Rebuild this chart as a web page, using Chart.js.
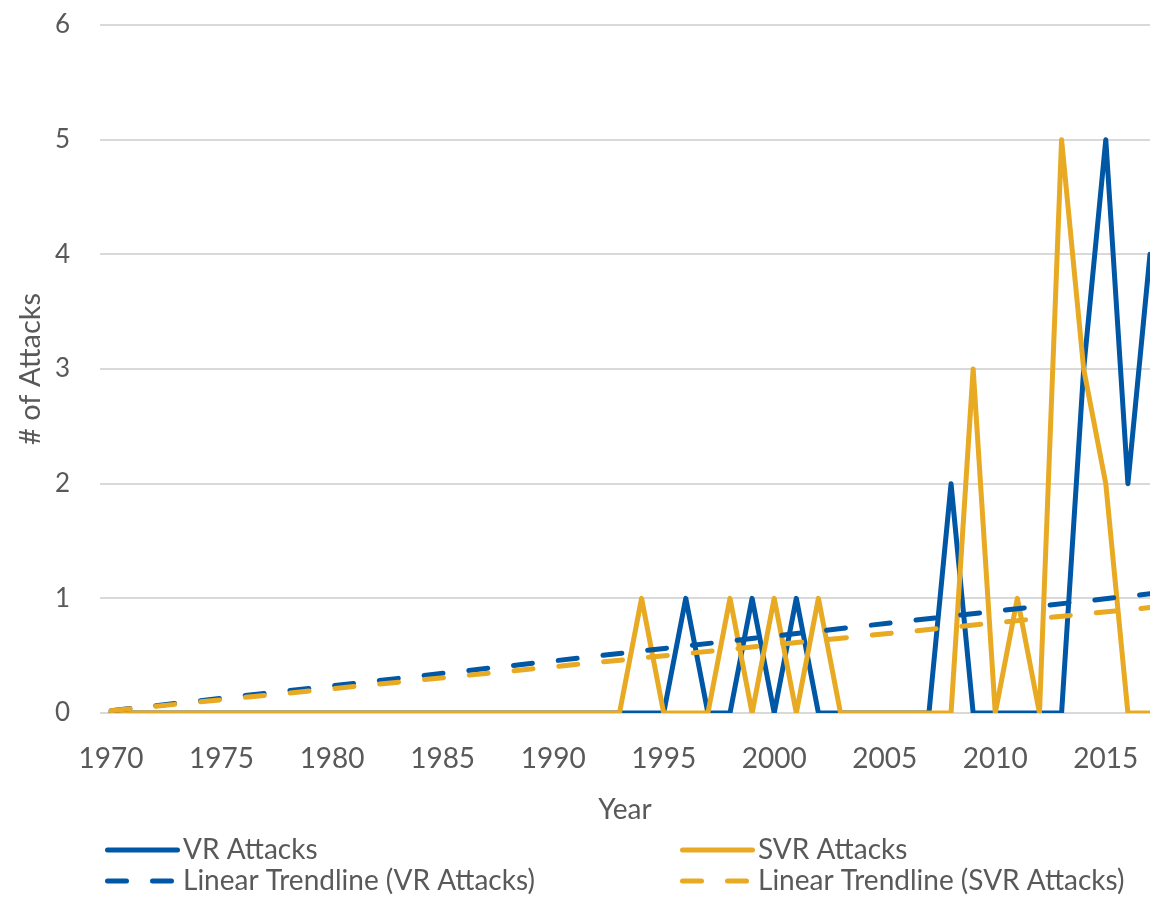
<!DOCTYPE html>
<html>
<head>
<meta charset="utf-8">
<script src="https://cdn.jsdelivr.net/npm/chart.js@4"></script>
<style>
  html, body { margin: 0; padding: 0; background: #fff; }
</style>
</head>
<body>
<canvas id="attackChart" width="1150" height="897"></canvas>
<script>
// data
const years = [
  1970, 1971, 1972, 1973, 1974, 1975, 1976, 1977, 1978, 1979,
  1980, 1981, 1982, 1983, 1984, 1985, 1986, 1987, 1988, 1989,
  1990, 1991, 1992, 1993, 1994, 1995, 1996, 1997, 1998, 1999,
  2000, 2001, 2002, 2003, 2004, 2005, 2006, 2007, 2008, 2009,
  2010, 2011, 2012, 2013, 2014, 2015, 2016, 2017
];
const vrAttacks = [
  0, 0, 0, 0, 0, 0, 0, 0, 0, 0,
  0, 0, 0, 0, 0, 0, 0, 0, 0, 0,
  0, 0, 0, 0, 0, 0, 1, 0, 0, 1,
  0, 1, 0, 0, 0, 0, 0, 0, 2, 0,
  0, 0, 0, 0, 3, 5, 2, 4
];
const svrAttacks = [
  0, 0, 0, 0, 0, 0, 0, 0, 0, 0,
  0, 0, 0, 0, 0, 0, 0, 0, 0, 0,
  0, 0, 0, 0, 1, 0, 0, 0, 1, 0,
  1, 0, 1, 0, 0, 0, 0, 0, 0, 3,
  0, 1, 0, 5, 3, 2, 0, 0
];
// trendline end points as drawn
const trendYears = [1970, 2017];
const vrTrend = [0.02, 1.04];
const svrTrend = [0.02, 0.92];

const xTickLabels = [1970, 1975, 1980, 1985, 1990, 1995, 2000, 2005, 2010, 2015];
const yTickLabels = [0, 1, 2, 3, 4, 5, 6];

const seriesNames = ['VR Attacks', 'SVR Attacks', 'Linear Trendline (VR Attacks)', 'Linear Trendline (SVR Attacks)'];

const BLUE = '#0057a5';
const GOLD = '#e8a923';
const TEXT = '#595959';
const FONT = 'Lato, "Open Sans", sans-serif';

Chart.defaults.font.family = FONT;
Chart.defaults.font.size = 26;
Chart.defaults.color = TEXT;

const toPoints = (xs, ys) => xs.map((x, i) => ({ x: x, y: ys[i] }));

// keep tick padding from pushing the plot area around
const noEdgePadding = s => {
  s.paddingTop = 0;
  s.paddingBottom = 0;
  s.paddingLeft = 0;
  s.paddingRight = 0;
};

// legend in two fixed columns, like the original
const legendColumns = [5, 580];
const columnLegend = {
  id: 'columnLegend',
  afterDraw(chart) {
    const ctx = chart.ctx;
    const left = chart.chartArea.left;
    const rows = [chart.height - 47, chart.height - 16];
    chart.data.datasets.forEach((ds, i) => {
      const x = left + legendColumns[i % 2];
      const y = rows[Math.floor(i / 2)];
      ctx.save();
      ctx.strokeStyle = ds.borderColor;
      ctx.lineWidth = 5;
      ctx.lineCap = 'round';
      ctx.setLineDash(ds.borderDash || []);
      ctx.beginPath();
      ctx.moveTo(x + 2.5, y);
      ctx.lineTo(x + 72.5, y);
      ctx.stroke();
      ctx.setLineDash([]);
      ctx.fillStyle = TEXT;
      ctx.font = '28px ' + FONT;
      ctx.textBaseline = 'middle';
      ctx.fillText(ds.label, x + 78, y);
      ctx.restore();
    });
  }
};

const ctx = document.getElementById('attackChart').getContext('2d');
new Chart(ctx, {
  type: 'line',
  data: {
    datasets: [
      {
        label: seriesNames[0],
        data: toPoints(years, vrAttacks),
        borderColor: BLUE,
        borderWidth: 5,
        order: 3
      },
      {
        label: seriesNames[1],
        data: toPoints(years, svrAttacks),
        borderColor: GOLD,
        borderWidth: 5,
        order: 2
      },
      {
        label: seriesNames[2],
        data: toPoints(trendYears, vrTrend),
        borderColor: BLUE,
        borderWidth: 5,
        borderDash: [19, 26],
        borderCapStyle: 'round',
        order: 1
      },
      {
        label: seriesNames[3],
        data: toPoints(trendYears, svrTrend),
        borderColor: GOLD,
        borderWidth: 5,
        borderDash: [19, 26],
        borderCapStyle: 'round',
        order: 0
      }
    ]
  },
  options: {
    responsive: false,
    animation: false,
    devicePixelRatio: 1,
    layout: { padding: { top: 25, right: 0, bottom: 0, left: 0 } },
    elements: {
      point: { radius: 0, hoverRadius: 0 },
      line: { tension: 0, borderJoinStyle: 'round', borderCapStyle: 'round', fill: false }
    },
    plugins: {
      legend: { display: false },
      tooltip: { enabled: false }
    },
    scales: {
      x: {
        type: 'linear',
        min: 1969.5,
        max: 2017,
        grid: { display: false },
        border: { display: false },
        afterBuildTicks: s => { s.ticks = xTickLabels.map(v => ({ value: v })); },
        afterFit: s => { s.height = 184; noEdgePadding(s); },
        ticks: {
          padding: 21,
          maxRotation: 0,
          autoSkip: false,
          font: { size: 28 },
          callback: v => String(v)
        },
        title: {
          display: true,
          text: 'Year',
          color: TEXT,
          font: { size: 28 },
          padding: { top: 0, bottom: 70 }
        }
      },
      y: {
        min: 0,
        max: 6,
        grid: { color: '#d9d9d9', lineWidth: 2, drawTicks: false },
        border: { display: false },
        afterBuildTicks: s => { s.ticks = yTickLabels.map(v => ({ value: v })); },
        afterFit: s => { s.width = 100; noEdgePadding(s); },
        ticks: {
          padding: 30,
          callback: v => String(v)
        },
        title: {
          display: true,
          text: '# of Attacks',
          color: TEXT,
          font: { size: 29 },
          padding: { top: 13, bottom: 0 }
        }
      }
    }
  },
  plugins: [columnLegend]
});
</script>
</body>
</html>
